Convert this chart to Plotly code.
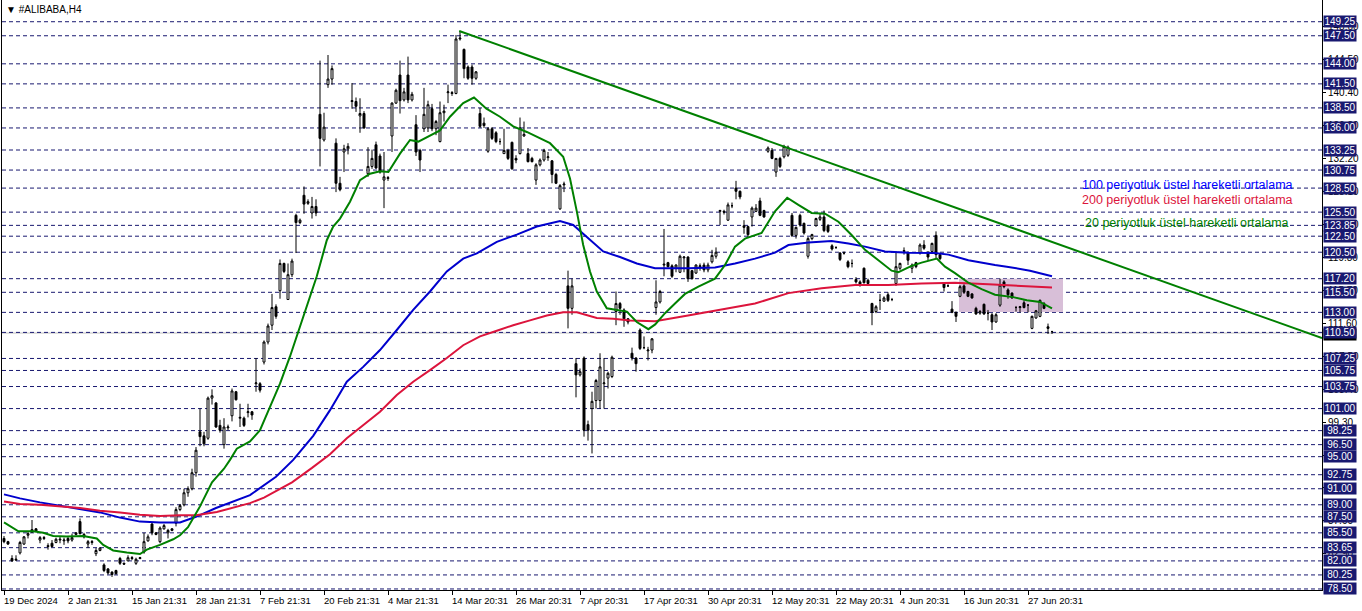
import plotly.graph_objects as go

# ---------------- data ----------------
# H4 bars, index 0 = 19 Dec 2024
opens = [84.8,84.4,82.3,82.1,83.0,84.1,85.2,85.9,86.0,84.6,84.8,83.9,84.2,84.3,84.6,84.5,84.8,84.6,85.3,86.9,
         85.3,84.1,84.3,82.9,83.3,81.5,81.0,80.6,80.8,82.3,81.7,82.0,82.3,81.7,82.3,83.1,84.5,86.6,85.5,84.4,
         86.0,85.5,85.8,86.7,88.4,89.0,90.5,91.0,93.0,98.1,97.6,97.3,102.3,101.7,98.9,96.5,98.6,100.1,103.1,99.8,
         99.8,100.5,100.6,104.1,104.1,106.8,109.3,111.4,113.7,115.7,119.1,114.6,117.7,125.1,124.2,127.6,126.6,125.4,126.2,137.7,
         134.5,141.4,142.1,134.1,129.1,133.0,133.4,139.3,139.3,137.5,137.8,130.3,131.2,133.9,132.5,129.5,129.7,135.0,139.1,142.6,
         139.5,142.6,139.5,136.4,133.2,135.9,136.0,138.4,135.9,134.3,137.9,140.4,140.3,140.3,147.1,145.8,143.6,143.6,142.2,137.8,
         136.6,133.1,135.9,135.4,134.3,132.8,133.2,134.2,132.2,132.8,135.0,132.8,132.2,129.5,131.4,132.0,132.3,131.9,130.2,125.9,
         128.9,116.3,113.5,106.6,105.2,107.3,99.0,101.0,102.0,102.0,104.1,104.8,105.0,113.1,114.1,113.3,112.2,107.9,107.3,110.8,
         108.6,108.2,108.3,113.6,114.3,118.9,119.2,118.8,118.5,118.0,119.8,119.9,118.2,117.9,118.7,118.9,118.3,119.3,120.0,125.6,
         125.6,124.5,126.3,128.5,128.1,123.8,123.7,124.9,125.6,126.9,125.7,133.1,133.2,130.5,132.2,132.4,132.6,125.1,122.6,125.1,
         124.1,120.0,122.2,123.8,124.6,124.9,123.8,121.3,121.1,120.4,120.4,119.3,119.1,117.1,116.8,118.5,117.0,114.1,113.1,114.5,
         114.4,115.2,114.6,116.6,118.5,120.6,120.4,118.5,119.2,120.4,121.4,120.5,120.6,122.6,120.2,116.7,116.3,113.4,113.0,115.0,
         116.3,115.6,115.3,113.5,112.9,114.0,112.9,112.7,111.8,113.9,116.8,115.8,115.4,113.6,113.6,114.2,113.9,111.0,112.3,112.5,
         114.1,111.2,110.6]
highs = [85.1,84.5,82.7,82.7,84.5,85.1,85.7,87.1,86.1,85.1,85.1,84.2,84.6,84.9,85.0,84.9,85.0,85.4,85.6,87.3,
         85.5,84.6,84.6,83.6,83.7,81.7,81.1,80.7,80.9,82.5,81.8,82.7,82.6,82.4,82.5,85.5,85.3,86.8,85.6,86.3,
         86.6,86.0,86.1,88.7,89.1,91.0,91.3,93.5,96.2,101.0,98.1,102.5,103.4,101.8,99.6,99.8,99.0,103.5,103.2,101.6,
         100.0,101.6,100.7,107.3,104.3,109.5,111.6,115.3,114.0,119.6,119.2,119.1,119.7,125.3,124.7,128.7,127.1,127.4,127.1,144.4,
         137.9,145.1,143.8,134.7,129.9,133.9,134.1,141.6,139.8,139.7,138.1,133.6,133.3,134.3,132.8,133.0,130.0,139.2,140.9,144.4,
         141.0,144.9,140.5,137.6,133.4,141.0,139.4,139.0,137.0,139.3,138.9,141.4,140.6,147.6,148.1,145.9,143.8,143.9,143.1,138.5,
         137.3,136.1,136.1,135.6,134.7,135.9,133.4,134.3,132.6,137.3,136.8,133.5,132.4,131.6,132.2,133.4,133.0,132.0,130.4,129.0,
         129.3,118.2,117.2,107.3,106.0,107.5,99.5,103.1,104.7,107.9,107.3,105.6,107.6,115.6,114.3,113.5,112.3,108.6,107.4,111.0,
         110.0,108.7,109.8,117.0,115.8,123.4,119.3,119.0,119.0,120.2,120.0,120.0,118.3,119.0,119.1,119.2,119.2,120.8,121.1,125.8,
         125.8,126.7,126.7,129.4,128.2,124.5,123.8,126.2,126.5,127.3,125.8,133.7,133.5,132.2,132.4,133.9,133.8,125.4,123.7,125.3,
         124.2,122.4,122.8,124.8,125.3,125.7,124.0,121.5,121.2,120.5,120.6,119.5,119.6,117.4,117.0,118.6,117.2,114.2,113.9,115.3,
         115.0,115.5,114.8,120.6,119.2,121.1,120.6,119.1,119.3,121.6,122.0,120.6,121.7,123.1,120.3,116.7,116.5,114.4,113.1,116.4,
         116.5,115.7,115.4,113.7,113.3,114.1,113.3,112.9,112.9,117.2,117.0,116.0,115.5,113.8,113.8,114.5,114.0,112.6,113.3,114.6,
         114.3,111.6,110.7]
lows = [84.2,84.0,81.9,82.0,82.8,84.0,84.8,85.5,85.6,84.2,84.6,83.4,83.7,84.2,84.2,84.0,84.2,84.4,85.2,85.3,
        84.8,83.6,84.0,82.6,83.2,80.6,80.3,80.0,80.3,81.5,81.5,82.0,82.1,81.5,82.2,82.9,84.4,85.2,85.2,84.2,
        85.9,84.8,85.7,86.3,88.2,88.8,90.0,90.8,92.5,96.3,96.3,97.1,101.5,98.6,98.0,96.0,98.3,99.4,102.0,98.7,
        98.7,99.9,99.6,103.1,103.0,106.5,109.0,110.8,112.2,114.7,117.9,114.6,117.4,120.4,124.0,125.3,126.4,124.7,125.0,131.2,
        134.3,141.0,141.4,128.0,128.1,130.5,132.7,138.4,138.0,135.4,135.9,129.9,130.9,130.9,130.3,126.0,129.4,133.0,139.0,137.8,
        139.3,139.1,139.3,132.5,130.5,135.5,135.5,135.6,135.1,134.2,136.8,139.1,140.0,140.2,146.9,142.2,142.0,141.4,142.0,136.0,
        136.0,132.9,134.5,134.1,133.9,132.8,132.0,130.8,131.6,132.7,134.9,131.7,131.7,128.9,131.2,131.8,131.9,129.1,129.0,125.8,
        128.0,111.0,112.7,102.4,105.0,97.5,97.0,95.4,101.0,101.0,101.0,103.5,104.8,111.4,112.7,111.2,111.5,107.0,105.6,108.3,
        108.4,107.0,107.9,112.7,114.1,117.5,118.6,117.3,118.0,117.9,118.0,116.8,117.1,117.8,118.2,118.0,118.0,119.1,119.7,123.9,
        125.2,124.4,126.0,127.1,127.1,122.8,122.4,123.7,125.5,125.0,124.8,132.9,132.1,129.9,131.0,132.2,132.4,122.4,122.2,123.7,
        122.7,119.7,122.0,123.7,124.4,123.0,122.9,120.7,120.9,119.4,120.2,118.5,118.6,116.6,116.2,116.6,116.5,111.4,112.9,113.3,
        114.3,114.3,114.4,116.3,118.3,120.2,118.9,117.9,118.5,120.2,120.8,119.5,120.5,119.7,119.5,115.6,116.2,112.9,111.8,114.9,
        115.3,114.9,114.7,112.7,112.7,112.7,112.0,110.8,111.7,113.7,116.0,114.7,114.7,113.1,113.0,113.5,113.0,110.9,112.2,112.4,
        113.4,110.3,110.3]
closes = [84.4,84.1,82.0,82.2,84.3,85.0,85.4,85.6,85.7,84.9,84.9,83.8,83.8,84.7,84.7,84.6,84.5,84.9,85.5,85.4,
          85.0,84.4,84.4,83.3,83.6,80.8,80.5,80.3,80.4,81.7,81.6,82.4,82.4,82.2,82.4,84.4,85.0,85.5,85.3,86.1,
          86.4,85.8,86.0,88.4,88.9,90.5,91.0,93.0,95.8,97.5,96.6,102.3,102.6,98.7,98.3,98.7,98.7,103.2,102.1,99.9,
          98.9,100.6,100.2,104.2,103.3,109.3,111.3,113.6,112.5,119.1,118.1,117.7,119.4,124.2,124.5,126.5,126.8,126.2,125.4,134.7,
          136.1,142.1,143.4,129.1,128.3,133.4,133.7,139.4,138.7,137.8,136.0,131.2,132.2,131.0,130.5,129.9,129.8,139.1,140.7,139.4,
          140.5,139.5,140.2,133.0,132.0,137.7,138.9,135.9,136.8,137.9,138.1,140.5,140.4,147.1,147.2,143.4,142.2,142.2,143.0,136.2,
          136.3,135.9,134.7,134.3,134.3,133.2,132.2,130.9,132.0,136.0,135.2,131.8,131.8,131.4,132.0,133.2,132.4,130.2,129.1,128.8,
          129.0,113.5,116.3,105.2,105.6,98.3,98.3,101.9,104.5,106.2,104.2,105.4,107.4,114.1,113.5,112.2,111.8,107.3,106.6,108.5,
          108.6,108.3,109.7,114.3,115.6,119.0,118.7,117.5,118.9,120.0,119.9,117.2,117.2,118.9,118.8,118.3,118.9,120.1,120.5,125.7,
          125.5,126.4,126.3,128.1,127.4,123.6,122.7,126.0,126.0,125.1,124.9,133.5,132.2,132.2,131.2,133.7,133.6,122.6,123.6,123.9,
          122.9,122.2,122.7,124.7,124.9,123.2,123.1,120.9,121.1,119.6,120.4,118.7,119.1,116.8,116.4,116.7,116.6,113.0,113.7,114.5,
          114.8,114.5,114.6,118.7,119.1,120.7,119.5,118.9,118.7,121.4,121.0,119.9,121.6,120.2,119.7,116.1,116.3,113.0,112.5,116.2,
          115.5,115.0,114.8,112.8,113.1,112.8,112.9,111.8,112.7,116.4,116.2,115.2,114.8,113.6,113.7,113.6,113.9,112.5,113.2,114.5,
          113.5,111.0,110.6]
bars = list(range(len(opens)))

# moving averages, sampled along the bars
ema20_bar = [0,1.5,3.6,7.3,9.8,12.3,15.7,19.8,23.2,24.8,27.3,30.7,34,35.7,39,42.3,44,46,49,52,55,56.5,58.2,61.5,64,
             66.5,69,71.5,74.8,78.2,80.7,82.3,84,86.5,89,91.5,94,96.1,99,101.5,103.6,106.5,109,111.5,114.8,117.5,
             120.6,124,127.3,130.7,134,136.5,139.8,141.5,143.2,144.8,146.5,148.2,150.7,153.2,155.7,158.2,161.1,162.8,
             165.25,167.75,170.25,173.6,177.75,180.25,182.75,185.25,189.4,192.75,195.8,198.6,201.9,205.25,208.6,211.9,
             215.25,218.6,221.9,223.6,226.9,229.4,233.2,235.25,237.75,241.1,244.4,247.75,252.3,255.7,259,262]
ema20_val = [86.8,86.3,85.7,85.7,85.5,85.1,85.05,85.1,84.8,84.0,83.3,83.05,82.85,83.4,84.0,84.7,85.2,86.2,88.8,91.8,93.5,
             94.6,96.0,96.9,98.3,101.2,104.1,107.5,112.5,117.5,122.0,123.7,124.7,126.8,129.5,130.3,130.6,130.5,132.8,134.5,
             134.3,135.1,135.7,137.4,139.1,139.8,138.4,137.4,136.2,135.5,134.7,134.1,132.4,129.7,125.6,121.4,118.1,115.6,
             113.5,113.3,113.1,111.8,110.9,111.5,112.9,114.1,115.3,116.2,117.2,118.9,121.2,122.2,122.9,125.6,127.3,126.4,
             125.4,125.3,124.3,122.65,120.8,119.5,118.2,118.0,118.8,119.2,119.7,118.7,117.9,116.7,115.9,115.2,114.9,114.5,
             114.3,113.5]
ema100_bar = [0,4,9,14,19,24,29,34,39,44,48,53,61.5,68,72.3,77.3,81.5,85.7,89.8,94,98.2,102.3,106.5,110.7,114.8,118.2,
              123.2,128.2,133.2,139,142.3,145.7,149.8,154,158.2,162.75,171,177.75,182.75,187.75,192.75,196.1,201.1,206.9,
              211.1,215.25,220.25,226,232.75,236.1,241.1,247.75,250.7,256.5,262]
ema100_val = [90.3,89.8,89.3,88.9,88.5,88.05,87.4,86.9,86.8,86.8,87.5,88.6,90.2,92.5,94.6,97.6,100.8,104.35,106.2,108.3,
              110.8,113.3,115.6,118.1,119.7,120.35,121.8,122.7,123.7,124.4,123.9,122.4,120.6,119.9,119.1,118.5,118.5,118.6,
              119.1,119.7,120.45,121.4,121.7,121.9,121.6,121.2,120.6,120.45,120.4,120.2,119.5,118.9,118.7,118.2,117.5]
ema200_bar = [0,4,9,14,19,24,29,34,39,44,48,53.2,61.5,65,72,77,81.5,85.7,89.8,94,98.2,102.3,106.5,110.7,114.8,119,123.2,
              127.3,131.5,135.7,139.8,143.2,148.2,152.3,156.5,162.75,171,179.4,187.75,196.1,204.4,212.75,221.1,229.4,
              237.75,246.1,250.7,262]
ema200_val = [89.4,89.1,89.0,88.8,88.6,88.25,88.05,87.75,87.6,87.7,87.7,88.1,89.2,89.9,91.8,93.6,95.3,97.3,98.9,100.6,
              102.7,104.35,105.8,107.3,108.9,110.0,110.7,111.4,112.0,112.6,113.0,113.0,112.3,112.2,112.0,111.9,112.6,113.4,
              114.1,115.4,116.0,116.4,116.4,116.6,116.7,116.5,116.4,116.1]

# drawn objects
trend_bar = [113.8, 329.5]
trend_price = [148.1, 109.8]
rect_bar = [238.75, 264.75]
rect_price = [113.05, 117.2]
bid_price = 110.42

level_prices = [149.25,147.50,144.00,141.50,138.50,136.00,133.25,130.75,128.50,125.50,123.85,122.50,120.50,117.20,
                115.50,113.00,110.50,107.25,105.75,103.75,101.00,98.25,96.50,95.00,92.75,91.00,89.00,87.50,85.50,
                83.65,82.00,80.25,78.50]
scale_prices = [148.60,144.50,140.40,136.30,132.20,128.10,124.00,119.80,115.70,111.60,107.50,103.40,99.30,95.20,
                91.10,87.00,82.90]
x_tick_bars = [0,16,32,48,64,80,96,112,128,144,160,176,192,208,224,240,256]
x_tick_labels = ["19 Dec 2024","2 Jan 21:31","15 Jan 21:31","28 Jan 21:31","7 Feb 21:31","20 Feb 21:31",
                 "4 Mar 21:31","14 Mar 20:31","26 Mar 20:31","7 Apr 20:31","17 Apr 20:31","30 Apr 20:31",
                 "12 May 20:31","22 May 20:31","4 Jun 20:31","16 Jun 20:31","27 Jun 20:31"]
legend_texts = ["100 periyotluk üstel hareketli ortalama",
                "200 periyotluk üstel hareketli ortalama",
                "20 periyotluk üstel hareketli ortalama"]
legend_prices = [128.88, 127.0, 124.14]
legend_bar = 295.75

FONT = "Liberation Sans"
NAVY = "#191970"

fig = go.Figure()
fig.add_trace(go.Candlestick(
    x=bars, open=opens, high=highs, low=lows, close=closes,
    increasing=dict(line=dict(color="black", width=1), fillcolor="white"),
    decreasing=dict(line=dict(color="black", width=1), fillcolor="black"),
    whiskerwidth=0, showlegend=False, hoverinfo="skip"))
fig.add_trace(go.Scatter(x=ema100_bar, y=ema100_val, mode="lines",
                         line=dict(color="#0000CD", width=2), showlegend=False, hoverinfo="skip"))
fig.add_trace(go.Scatter(x=ema200_bar, y=ema200_val, mode="lines",
                         line=dict(color="#DC143C", width=2), showlegend=False, hoverinfo="skip"))
fig.add_trace(go.Scatter(x=ema20_bar, y=ema20_val, mode="lines",
                         line=dict(color="#008000", width=2), showlegend=False, hoverinfo="skip"))
fig.add_trace(go.Scatter(x=trend_bar, y=trend_price, mode="lines",
                         line=dict(color="#008000", width=2), showlegend=False, hoverinfo="skip"))

shapes = [dict(type="rect", xref="x", yref="y", x0=rect_bar[0], x1=rect_bar[1], y0=rect_price[0],
               y1=rect_price[1], fillcolor="#D8BFD8", line=dict(width=0), layer="below")]
shapes.append(dict(type="line", xref="paper", yref="y", x0=0, x1=1, y0=bid_price, y1=bid_price,
                   line=dict(color="#C0C0C0", width=1), layer="below"))
for p in level_prices:
    shapes.append(dict(type="line", xref="paper", yref="y", x0=0, x1=1, y0=p, y1=p,
                       line=dict(color=NAVY, width=1, dash="4px,3px"), layer="below"))

ann = []
ann.append(dict(xref="paper", yref="paper", x=0, y=1, xanchor="left", yanchor="top", xshift=2, yshift=-2,
                text="▼ #ALIBABA,H4", showarrow=False, font=dict(family=FONT, size=10, color="black")))
for b, t in zip(x_tick_bars, x_tick_labels):
    ann.append(dict(xref="x", yref="paper", x=b, y=0, xanchor="left", yanchor="top", xshift=-2, yshift=-3,
                    text=t, showarrow=False, font=dict(family=FONT, size=9.5, color="black")))
ann.append(dict(xref="paper", yref="y", x=1, y=bid_price - 0.12, xanchor="left", xshift=1, text="110.42",
                showarrow=False, bgcolor="black", width=32, height=11, borderpad=0,
                font=dict(family=FONT, size=10, color="white")))
for p in level_prices:
    ann.append(dict(xref="paper", yref="y", x=1, y=p, xanchor="left", xshift=1, text=f"{p:.2f}",
                    showarrow=False, bgcolor=NAVY, width=32, height=11, borderpad=0,
                    font=dict(family=FONT, size=10, color="white")))
for t, p, c in zip(legend_texts, legend_prices, ["#0000FF", "#DC143C", "#008000"]):
    ann.append(dict(xref="x", yref="y", x=legend_bar, y=p, xanchor="center", text=t, showarrow=False,
                    font=dict(family=FONT, size=12.5, color=c)))

fig.update_layout(
    width=1362, height=611,
    margin=dict(l=2, r=40, t=0, b=21, pad=0),
    paper_bgcolor="white", plot_bgcolor="white",
    showlegend=False, hovermode=False,
    shapes=shapes, annotations=ann,
    xaxis=dict(range=[-0.5, 329.5], showgrid=False, zeroline=False, showline=True, linecolor="black",
               linewidth=1, ticks="outside", ticklen=4, tickcolor="black", tickvals=x_tick_bars,
               showticklabels=False, rangeslider=dict(visible=False), fixedrange=True),
    yaxis=dict(range=[78.37, 151.96], side="right", showgrid=False, zeroline=False, showline=True,
               mirror=True, linecolor="black", linewidth=1, ticks="outside", ticklen=3, tickcolor="black",
               tickvals=scale_prices, ticktext=[f"{v:.2f}" for v in scale_prices],
               tickfont=dict(family=FONT, size=10, color="black"), fixedrange=True),
)

fig.write_html("out.html", config={"displayModeBar": False},
               post_script="document.body.style.margin='0';document.body.style.overflow='hidden';")
